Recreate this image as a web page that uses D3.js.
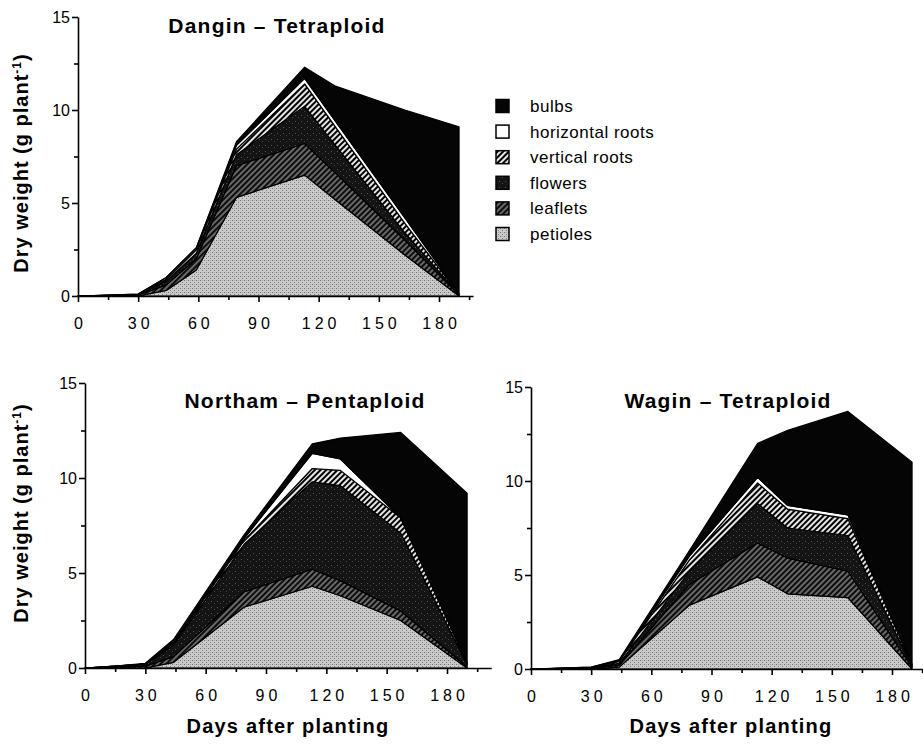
<!DOCTYPE html>
<html>
<head>
<meta charset="utf-8">
<title>Dry weight partitioning</title>
<script src="https://cdn.jsdelivr.net/npm/d3@7"></script>
<style>
    body { margin: 0; background: #fff; }
    text { font-family: "Liberation Sans", Arial, Helvetica, sans-serif; fill: #000; }
    .xt text { letter-spacing: 4px; }
</style>
</head>
<body>
<div id="chart"></div>
<script>

// plant parts, stacked from the bottom up
var parts = ["petioles", "leaflets", "flowers", "vertical roots", "horizontal roots", "bulbs"];
var legendOrder = ["bulbs", "horizontal roots", "vertical roots", "flowers", "leaflets", "petioles"];

var xTicks = [0, 30, 60, 90, 120, 150, 180];
var xMinorTicks = [15, 45, 75, 105, 135, 165, 195];
var yTicks = [0, 5, 10, 15];
var yMinorTicks = [2.5, 7.5, 12.5];

// Dangin - Tetraploid (g per plant, per part)
var danginDays       = [0, 15, 30, 44, 59, 79, 113, 128, 163, 190];
var danginPetioles   = [0, 0, 0, 0.3, 1.4, 5.3, 6.5, 5.2, 2.2, 0];
var danginLeaflets   = [0, 0.02, 0.05, 0.3, 0.6, 1.7, 1.7, 1.45, 0.8, 0.05];
var danginFlowers    = [0, 0.01, 0.02, 0.2, 0.3, 0.6, 2.0, 1.5, 0.4, 0.03];
var danginVertical   = [0, 0.01, 0.02, 0.1, 0.2, 0.3, 1.2, 1.0, 0.5, 0.02];
var danginHorizontal = [0, 0.01, 0.01, 0.1, 0.1, 0.2, 0.3, 0.3, 0.3, 0.02];
var danginBulbs      = [0, 0, 0, 0, 0, 0.2, 0.6, 1.85, 5.8, 8.98];

// Northam - Pentaploid
var northamDays       = [0, 15, 30, 44, 79, 113, 127, 157, 190];
var northamPetioles   = [0, 0, 0, 0.3, 3.2, 4.3, 3.8, 2.5, 0];
var northamLeaflets   = [0, 0.05, 0.1, 0.3, 0.8, 0.9, 0.8, 0.5, 0.05];
var northamFlowers    = [0, 0.05, 0.1, 0.6, 2.5, 4.6, 5.0, 4.1, 0.15];
var northamVertical   = [0, 0, 0, 0.1, 0.2, 0.7, 0.8, 0.8, 0.05];
var northamHorizontal = [0, 0, 0, 0, 0.1, 0.8, 0.6, 0, 0.05];
var northamBulbs      = [0, 0, 0.05, 0.2, 0.2, 0.5, 1.1, 4.5, 8.9];

// Wagin - Tetraploid
var waginDays       = [0, 15, 30, 44, 79, 113, 128, 158, 190];
var waginPetioles   = [0, 0, 0, 0.1, 3.4, 4.9, 4.0, 3.8, 0];
var waginLeaflets   = [0, 0.02, 0.05, 0.1, 1.1, 1.8, 1.9, 1.4, 0.1];
var waginFlowers    = [0, 0.01, 0.02, 0.1, 0.7, 2.1, 1.6, 1.9, 0.05];
var waginVertical   = [0, 0.01, 0.01, 0.1, 0.6, 1.1, 1.0, 0.9, 0.05];
var waginHorizontal = [0, 0.01, 0.02, 0.05, 0.2, 0.3, 0.2, 0.2, 0.05];
var waginBulbs      = [0, 0, 0, 0.05, 0.3, 1.8, 4.0, 5.5, 10.75];

function makeRows(days, series) {
    return days.map(function (d, i) {
        var row = { day: d };
        parts.forEach(function (p, j) { row[p] = series[j][i]; });
        return row;
    });
}

var panels = [
    { title: "Dangin \u2013 Tetraploid",
      rows: makeRows(danginDays, [danginPetioles, danginLeaflets, danginFlowers, danginVertical, danginHorizontal, danginBulbs]),
      x0: 78, x180: 439, xMax: 197, y0: 296, y15: 17,
      titleX: 277, titleY: 33, yLabelY: 163, xLabelX: null },
    { title: "Northam \u2013 Pentaploid",
      rows: makeRows(northamDays, [northamPetioles, northamLeaflets, northamFlowers, northamVertical, northamHorizontal, northamBulbs]),
      x0: 85, x180: 447, xMax: 202, y0: 668, y15: 383,
      titleX: 305, titleY: 408, yLabelY: 513, xLabelX: 288 },
    { title: "Wagin \u2013 Tetraploid",
      rows: makeRows(waginDays, [waginPetioles, waginLeaflets, waginFlowers, waginVertical, waginHorizontal, waginBulbs]),
      x0: 531, x180: 892, xMax: 196, y0: 669, y15: 387,
      titleX: 728, titleY: 408, yLabelY: null, xLabelX: 731 }
];

var svg = d3.select("#chart")
    .append("svg")
    .attr("width", 923)
    .attr("height", 745);

// fill patterns
var defs = svg.append("defs");

var pet = defs.append("pattern").attr("id", "p-petioles")
    .attr("patternUnits", "userSpaceOnUse").attr("width", 4).attr("height", 4);
pet.append("rect").attr("width", 4).attr("height", 4).attr("fill", "#cacaca");
pet.append("rect").attr("width", 1).attr("height", 1).attr("fill", "#707070");
pet.append("rect").attr("x", 2).attr("y", 2).attr("width", 1).attr("height", 1).attr("fill", "#7c7c7c");
pet.append("rect").attr("x", 2).attr("y", 0).attr("width", 1).attr("height", 1).attr("fill", "#a8a8a8");

var leaf = defs.append("pattern").attr("id", "p-leaflets")
    .attr("patternUnits", "userSpaceOnUse").attr("width", 4).attr("height", 4)
    .attr("patternTransform", "rotate(45)");
leaf.append("rect").attr("width", 4).attr("height", 4).attr("fill", "#0d0d0d");
leaf.append("line").attr("x1", 1).attr("y1", 0).attr("x2", 1).attr("y2", 4)
    .attr("stroke", "#9a9a9a").attr("stroke-width", 1.3);

var flw = defs.append("pattern").attr("id", "p-flowers")
    .attr("patternUnits", "userSpaceOnUse").attr("width", 6).attr("height", 6);
flw.append("rect").attr("width", 6).attr("height", 6).attr("fill", "#141414");
flw.append("rect").attr("x", 1).attr("y", 1).attr("width", 1).attr("height", 1).attr("fill", "#555");
flw.append("rect").attr("x", 4).attr("y", 3).attr("width", 1).attr("height", 1).attr("fill", "#444");

var vert = defs.append("pattern").attr("id", "p-vertical")
    .attr("patternUnits", "userSpaceOnUse").attr("width", 4).attr("height", 4)
    .attr("patternTransform", "rotate(45)");
vert.append("rect").attr("width", 4).attr("height", 4).attr("fill", "#000");
vert.append("line").attr("x1", 1).attr("y1", 0).attr("x2", 1).attr("y2", 4)
    .attr("stroke", "#fff").attr("stroke-width", 1.8);

var fills = {
    "petioles": "url(#p-petioles)",
    "leaflets": "url(#p-leaflets)",
    "flowers": "url(#p-flowers)",
    "vertical roots": "url(#p-vertical)",
    "horizontal roots": "#ffffff",
    "bulbs": "#050505"
};

var stack = d3.stack().keys(parts);

panels.forEach(function (p) {
    var k = (p.x180 - p.x0) / 180;
    var x = d3.scaleLinear().domain([0, p.xMax]).range([p.x0, p.x0 + p.xMax * k]);
    var y = d3.scaleLinear().domain([0, 15]).range([p.y0, p.y15]);
    var g = svg.append("g");

    var area = d3.area()
        .x(function (d) { return x(d.data.day); })
        .y0(function (d) { return y(d[0]); })
        .y1(function (d) { return y(d[1]); });

    g.selectAll("path.layer")
        .data(stack(p.rows))
        .enter()
        .append("path")
        .attr("class", "layer")
        .attr("d", area)
        .attr("fill", function (d) { return fills[d.key]; })
        .attr("stroke", "#000")
        .attr("stroke-width", 1.2)
        .attr("stroke-linejoin", "round");

    // x axis
    var xAxis = g.append("g").attr("class", "xt").attr("transform", "translate(0," + p.y0 + ")")
        .call(d3.axisBottom(x).tickValues(xTicks).tickSize(6).tickSizeOuter(0).tickPadding(16));
    xAxis.selectAll("text")
        .attr("font-size", 16)
        .style("font-size", "16px")
        .attr("dx", 2);
    g.append("g").attr("transform", "translate(0," + p.y0 + ")")
        .call(d3.axisBottom(x).tickValues(xMinorTicks).tickSize(4).tickSizeOuter(0).tickFormat(""))
        .select(".domain").remove();

    // y axis
    var yAxis = g.append("g").attr("transform", "translate(" + p.x0 + ",0)")
        .call(d3.axisLeft(y).tickValues(yTicks).tickSize(6).tickSizeOuter(0).tickPadding(2));
    yAxis.selectAll("text").style("font-size", "16px");
    g.append("g").attr("transform", "translate(" + p.x0 + ",0)")
        .call(d3.axisLeft(y).tickValues(yMinorTicks).tickSize(4).tickSizeOuter(0).tickFormat(""))
        .select(".domain").remove();

    g.selectAll(".domain, .tick line").attr("stroke", "#000").attr("stroke-width", 1.6);

    // title
    g.append("text")
        .attr("x", p.titleX)
        .attr("y", p.titleY)
        .attr("text-anchor", "middle")
        .style("font-size", "21px")
        .style("font-weight", "bold")
        .style("letter-spacing", "1.2px")
        .text(p.title);

    // y label
    if (p.yLabelY !== null) {
        var yl = g.append("text")
            .attr("transform", "translate(28," + p.yLabelY + ") rotate(-90)")
            .attr("text-anchor", "middle")
            .style("font-size", "20px")
            .style("font-weight", "bold")
            .style("letter-spacing", "1px");
        yl.append("tspan").text("Dry weight (g plant");
        yl.append("tspan").attr("dy", "-7").style("font-size", "12px").text("-1");
        yl.append("tspan").attr("dy", "7").text(")");
    }

    // x label
    if (p.xLabelX !== null) {
        g.append("text")
            .attr("x", p.xLabelX)
            .attr("y", 733)
            .attr("text-anchor", "middle")
            .style("font-size", "20px")
            .style("font-weight", "bold")
            .style("letter-spacing", "1.2px")
            .text("Days after planting");
    }
});

// legend
var legend = svg.append("g");
legendOrder.forEach(function (name, i) {
    var cy = 106 + i * 25.6;
    legend.append("rect")
        .attr("x", 496)
        .attr("y", cy - 6.5)
        .attr("width", 13)
        .attr("height", 13)
        .attr("fill", fills[name])
        .attr("stroke", "#000")
        .attr("stroke-width", 1.5);
    legend.append("text")
        .attr("x", 530)
        .attr("y", cy + 6)
        .style("font-size", "17px")
        .style("letter-spacing", "0.5px")
        .text(name);
});

</script>
</body>
</html>
